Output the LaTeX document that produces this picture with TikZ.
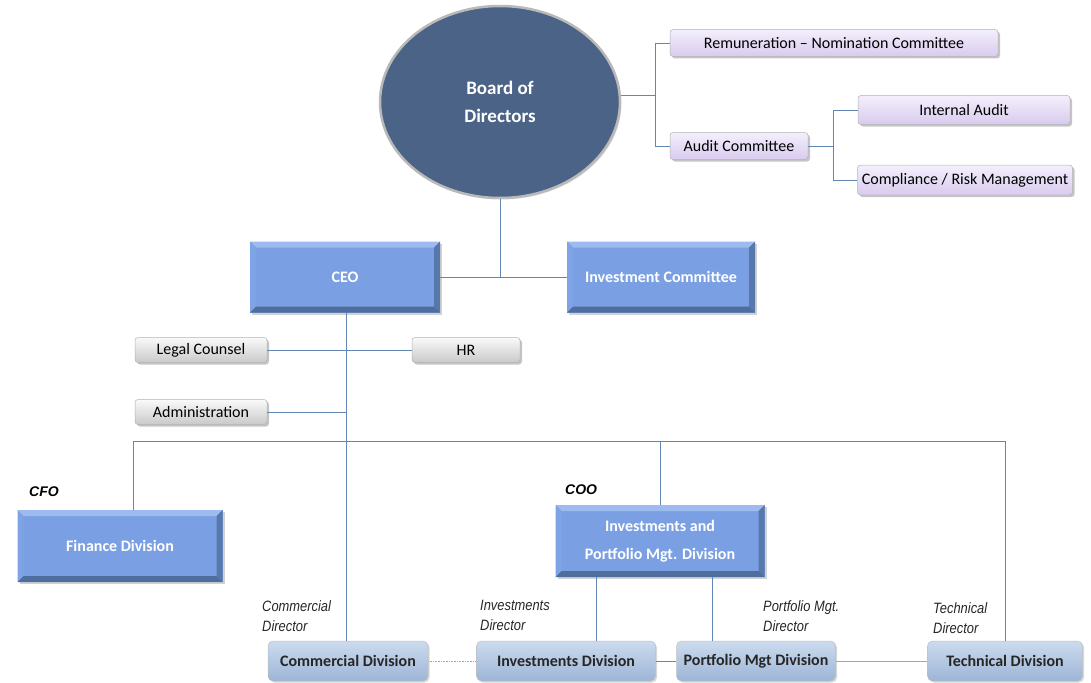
\documentclass[tikz,border=0pt]{standalone}
\usepackage{fontspec}
\setmainfont{Carlito}
\newfontfamily\arialf{Liberation Sans}
\newfontfamily\arialn[FakeStretch=0.86]{Liberation Sans}
\usetikzlibrary{shapes.geometric,shadows}
\definecolor{linec}{HTML}{6387B3}
\definecolor{bodfill}{HTML}{4A6386}
\definecolor{ceofill}{HTML}{7AA0E3}
\definecolor{ceolight}{HTML}{9DBBEE}
\definecolor{ceodark}{HTML}{4F6E9E}
\definecolor{purtop}{HTML}{F4EFFC}
\definecolor{purbot}{HTML}{D8CBEE}
\definecolor{graytop}{HTML}{FAFAFA}
\definecolor{graybot}{HTML}{C9C9C9}
\definecolor{divtop}{HTML}{CCDBEE}
\definecolor{divbot}{HTML}{9CB5D6}
\begin{document}
\begin{tikzpicture}[x=1pt,y=-1pt,
  conn/.style={draw=linec,line width=0.9pt},
  thinconn/.style={draw=gray!70,line width=0.6pt},
  bluebox/.style={rectangle,fill=ceofill,text=white,inner sep=0pt,
    font=\bfseries\fontsize{16}{20}\selectfont,align=center,
    drop shadow={shadow xshift=2pt,shadow yshift=-2pt,fill=black!35},
    path picture={
      \fill[ceolight] (path picture bounding box.north west) -- (path picture bounding box.north east) -- ([xshift=-6pt,yshift=-6pt]path picture bounding box.north east) -- ([xshift=6pt,yshift=-6pt]path picture bounding box.north west) -- cycle;
      \fill[ceofill!85!ceolight] (path picture bounding box.north west) -- (path picture bounding box.south west) -- ([xshift=6pt,yshift=6pt]path picture bounding box.south west) -- ([xshift=6pt,yshift=-6pt]path picture bounding box.north west) -- cycle;
      \fill[ceodark] (path picture bounding box.south west) -- (path picture bounding box.south east) -- ([xshift=-6pt,yshift=6pt]path picture bounding box.south east) -- ([xshift=6pt,yshift=6pt]path picture bounding box.south west) -- cycle;
      \fill[ceodark!80!ceofill] (path picture bounding box.north east) -- (path picture bounding box.south east) -- ([xshift=-6pt,yshift=6pt]path picture bounding box.south east) -- ([xshift=-6pt,yshift=-6pt]path picture bounding box.north east) -- cycle;
    }},
  purbox/.style={rectangle,rounded corners=3pt,top color=purtop,bottom color=purbot,
    draw=gray!60,line width=0.5pt,inner sep=0pt,
    font=\fontsize{16}{19}\selectfont,
    drop shadow={shadow xshift=2pt,shadow yshift=-2pt,fill=black!45}},
  graybox/.style={rectangle,rounded corners=3pt,top color=graytop,bottom color=graybot,
    draw=gray!60,line width=0.5pt,inner sep=0pt,
    font=\fontsize{16}{19}\selectfont,
    drop shadow={shadow xshift=2pt,shadow yshift=-2pt,fill=black!45}},
  divbox/.style={rectangle,rounded corners=5pt,top color=divtop,bottom color=divbot,
    draw=gray!50,line width=0.5pt,inner sep=0pt,text=black!85,
    font=\bfseries\fontsize{16}{19}\selectfont,
    drop shadow={shadow xshift=1.5pt,shadow yshift=-1.5pt,fill=black!30}},
  rolelab/.style={font=\arialn\itshape\fontsize{15}{20}\selectfont,align=left,anchor=north west,inner sep=0pt,text=black!85},
  boldlab/.style={font=\arialf\bfseries\itshape\fontsize{14}{16}\selectfont,anchor=west,inner sep=0pt}
]
\useasboundingbox (0,0) rectangle (1091,682);

% Board
\node[ellipse,fill=bodfill,draw=gray!55,line width=2.5pt,minimum width=240pt,minimum height=192pt,
  text=white,font=\bfseries\fontsize{19}{28}\selectfont,align=center,
  drop shadow={shadow xshift=1.5pt,shadow yshift=-1.5pt,fill=black!25}] (bod) at (500,102) {Board of\\Directors};

% committees
\node[purbox,minimum width=328pt,minimum height=27pt] (rem) at (834,43) {Remuneration -- Nomination Committee};
\node[purbox,minimum width=138pt,minimum height=27pt] (aud) at (739,146) {Audit Committee};
\node[purbox,minimum width=212pt,minimum height=29pt] (ia) at (964,110) {Internal Audit};
\node[purbox,minimum width=215pt,minimum height=30pt] (crm) at (965,180) {Compliance / Risk Management};

\coordinate (j1) at (655,95);
\draw[conn] (bod.east |- j1) -- (j1);
\draw[conn] (rem.west) -| (j1) |- (aud.west);
\coordinate (j2) at (833,146);
\draw[conn] (aud.east) -- (j2);
\draw[conn] (ia.west) -| (j2) |- (crm.west);

% CEO, IC
\node[bluebox,minimum width=190pt,minimum height=71pt] (ceo) at (345,277) {CEO};
\node[bluebox,minimum width=188pt,minimum height=71pt] (ic) at (661,277) {Investment Committee};
\coordinate (j3) at (500,277);
\draw[conn] (ceo.east) -- (ic.west);
\draw[conn] (bod.south) -- (j3);

% staff
\node[graybox,minimum width=132pt,minimum height=25pt] (legal) at (201,350) {Legal Counsel};
\node[graybox,minimum width=108pt,minimum height=25pt] (hr) at (466,350) {HR};
\node[graybox,minimum width=132pt,minimum height=25pt] (admin) at (201,412) {Administration};
\draw[conn] (legal.east) -- (hr.west);

% divisions
\node[bluebox,minimum width=205pt,minimum height=72pt] (fin) at (120,546) {Finance Division};
\node[bluebox,minimum width=209pt,minimum height=72pt,font=\bfseries\fontsize{16}{28}\selectfont] (ipm) at (660,541) {Investments and\\Portfolio Mgt. Division};

\node[divbox,minimum width=160pt,minimum height=40pt] (com) at (348,661) {Commercial Division};
\node[divbox,minimum width=179pt,minimum height=40pt] (inv) at (566,661) {Investments Division};
\node[divbox,minimum width=159pt,minimum height=40pt] (pm) at (756,661) {Portfolio Mgt Division};
\node[divbox,minimum width=155pt,minimum height=40pt] (tech) at (1005,661) {Technical Division};

\coordinate (ceoadm) at (346,412);
\draw[conn] (ceo.south -| 346,0) -- (com.north -| 346,0);
\draw[conn] (admin.east) -- (ceoadm);

\coordinate (hl) at (133,441);
\coordinate (hm) at (660,441);
\coordinate (hr2) at (1005,441);
\draw[conn] (fin.north -| hl) -- (hl) -- (hr2) -- (tech.north);
\draw[conn] (hm) -- (ipm.north);

\draw[conn] (ipm.south -| 596,0) -- (inv.north -| 596,0);
\draw[conn] (ipm.south -| 712,0) -- (pm.north -| 712,0);

\draw[thinconn,densely dotted] (com.east) -- (inv.west);
\draw[conn] (inv.east) -- (pm.west);
\draw[thinconn] (pm.east) -- (tech.west);

% labels
\node[boldlab] (cfo) at (29,492) {CFO};
\node[boldlab] (coo) at (565,490) {COO};
\node[rolelab] (lcom) at (262,600) {Commercial\\Director};
\node[rolelab] (linv) at (480,600) {Investments\\Director};
\node[rolelab] (lpm) at (763,600) {Portfolio Mgt.\\Director};
\node[rolelab] (ltech) at (933,602) {Technical\\Director};
\end{tikzpicture}
\end{document}
